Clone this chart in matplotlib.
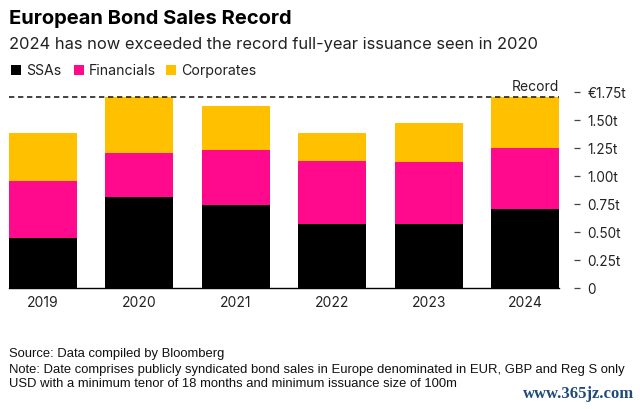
import matplotlib
matplotlib.use("Agg")
import matplotlib.pyplot as plt
import numpy as np

years = ["2019", "2020", "2021", "2022", "2023", "2024"]
ssas = [0.448, 0.814, 0.741, 0.570, 0.574, 0.711]
financials = [0.507, 0.395, 0.492, 0.565, 0.551, 0.541]
corporates = [0.429, 0.497, 0.395, 0.249, 0.351, 0.454]
record = 1.706
tick_values = [0, 0.25, 0.5, 0.75, 1.0, 1.25, 1.5, 1.75]
tick_labels = ["0", "0.25t", "0.50t", "0.75t", "1.00t", "1.25t", "1.50t", "€1.75t"]
BLACK, PINK, GOLD = "#000000", "#FF0A8C", "#FFC000"

plt.rcParams["font.family"] = ["Inter", "Liberation Sans", "DejaVu Sans"]
W, H = 640, 409
fig = plt.figure(figsize=(W / 100, H / 100), dpi=100, facecolor="white")
bottom_px, top_px, left_px, right_px = 288.3, 92.3, 9, 559
ax = fig.add_axes([left_px / W, 1 - bottom_px / H, (right_px - left_px) / W, (bottom_px - top_px) / H])

x = np.arange(len(years))
s, f, c = map(np.array, (ssas, financials, corporates))
bw = 0.70
ax.bar(x, s, bw, color=BLACK, linewidth=0)
ax.bar(x, f, bw, bottom=s, color=PINK, linewidth=0)
ax.bar(x, c, bw, bottom=s + f, color=GOLD, linewidth=0)
half = bw / 2
ax.set_xlim(-half, len(years) - 1 + half)
ax.set_ylim(0, 1.75)

ax.plot([-half, len(years) - 1 + half], [record, record], color="#222222", lw=1.2,
        dashes=(3.2, 2.2), clip_on=False, zorder=5)
ax.text(len(years) - 1 + half, 1.797, "Record", ha="right", va="center", fontsize=10, color="#222222")

for sp in ("top", "left", "right"):
    ax.spines[sp].set_visible(False)
ax.spines["bottom"].set_color("#000000")
ax.spines["bottom"].set_linewidth(1.0)
ax.spines["right"].set_position(("outward", 10.8))
ax.yaxis.tick_right()
ax.set_yticks(tick_values)
ax.set_yticklabels(tick_labels)
ax.tick_params(axis="y", direction="out", length=4.3, width=0.9, color="#444444", pad=5.5,
               labelsize=9.8, labelcolor="#222222")
ax.set_xticks(x)
ax.set_xticklabels(years)
ax.tick_params(axis="x", length=0, pad=5.6, labelsize=10, labelcolor="#222222")

fig.text(9 / W, 1 - 24.5 / H, "European Bond Sales Record", va="baseline", ha="left", fontsize=14.5,
         fontweight="bold", color="#000000")
fig.text(9 / W, 1 - 49.5 / H, "2024 has now exceeded the record full-year issuance seen in 2020", va="baseline",
         ha="left", fontsize=11.9, color="#222222")

for px, col, label, tx in [(11, BLACK, "SSAs", 26), (74, PINK, "Financials", 89), (166, GOLD, "Corporates", 181)]:
    fig.patches.append(plt.Rectangle((px / W, 1 - 75 / H), 10 / W, 10 / H, transform=fig.transFigure, color=col, linewidth=0))
    fig.text(tx / W, 1 - 75 / H, label, va="baseline", ha="left", fontsize=10.2, color="#222222")

for py, line in [(354, "Source: Data compiled by Bloomberg"),
                 (369.6, "Note: Date comprises publicly syndicated bond sales in Europe denominated in EUR, GBP and Reg S only"),
                 (384.4, "USD with a minimum tenor of 18 months and minimum issuance size of 100m")]:
    fig.text(9 / W, 1 - py / H, line, va="center", ha="left", fontsize=9.4, color="#111111", family="Liberation Sans")

fig.text(634 / W, 1 - 394 / H, "www.365jz.com", ha="right", va="center", fontsize=12.0, color="#1F4A7A",
         family="Liberation Serif", fontweight="bold")
fig.savefig("out.png", dpi=100, facecolor="white")
